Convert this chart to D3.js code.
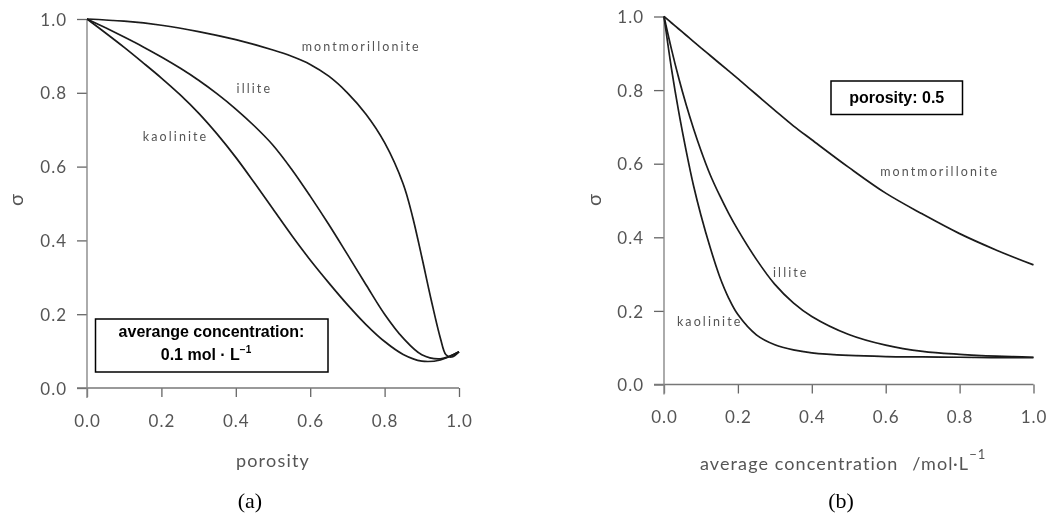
<!DOCTYPE html>
<html>
<head>
<meta charset="utf-8">
<script src="https://cdn.jsdelivr.net/npm/d3@7"></script>
<style>
  html, body { margin: 0; padding: 0; background: #fff; }
  svg { display: block; }
</style>
</head>
<body>
<svg id="chart" width="1053" height="514"></svg>
<script>
// ---- Data -------------------------------------------------------------
// (a) reflection coefficient sigma vs. porosity at 0.1 mol/L
const porosityGrid = [0, .05, .1, .15, .2, .25, .3, .35, .4, .45, .5, .55, .6, .65, .7, .75, .8, .85, .9, .95, 1.0];
const kaoliniteA   = [1.0, .962, .923, .882, .84, .795, .745, .688, .625, .556, .485, .414, .347, .285, .226, .172, .126, .091, .073, .076, .098];
const illiteA      = [1.0, .976, .951, .925, .897, .867, .834, .797, .756, .71, .658, .593, .52, .443, .362, .28, .2, .135, .09, .079, .098];
const montPorosity = [0, .1, .2, .3, .4, .5, .55, .6, .65, .7, .75, .8, .85, .875, .9, .925, .95, .965, .98, 1.0];
const montA        = [1.0, .994, .983, .966, .944, .916, .899, .877, .845, .80, .742, .665, .553, .465, .355, .24, .135, .09, .084, .098];

// (b) sigma vs. average concentration at porosity 0.5
const concGrid   = [0, .02, .04, .06, .08, .1, .125, .15, .175, .2, .25, .3, .35, .4, .5, .6, .7, .8, .9, 1.0];
const kaoliniteB = [1.0, .86, .74, .635, .54, .46, .372, .295, .235, .19, .135, .108, .094, .086, .079, .076, .075, .074, .073, .073];
const illiteB    = [1.0, .912, .832, .76, .695, .636, .57, .515, .465, .42, .34, .272, .222, .185, .136, .107, .09, .082, .077, .074];
const montB      = [1.0, .983, .966, .949, .932, .915, .894, .873, .852, .831, .788, .745, .703, .665, .59, .52, .463, .41, .365, .325];

const tickValues = [0, 0.2, 0.4, 0.6, 0.8, 1.0];

// ---- Drawing -----------------------------------------------------------
const svg = d3.select("#chart");
const tickFont = "Lato, 'Open Sans', sans-serif";
const grey = "#555";

const defs = svg.append("defs");
defs.append("filter").attr("id", "soft")
  .append("feGaussianBlur").attr("stdDeviation", 0.55);

function panel(cfg) {
  const x = d3.scaleLinear().domain([0, 1]).range(cfg.xRange);
  const y = d3.scaleLinear().domain([0, 1]).range(cfg.yRange);
  const g = svg.append("g").attr("filter", "url(#soft)");

  // axes
  const xAxis = d3.axisBottom(x).tickValues(tickValues).tickFormat(d3.format(".1f"))
    .tickSize(9).tickSizeOuter(0).tickPadding(cfg.xPad);
  const yAxis = d3.axisLeft(y).tickValues(tickValues).tickFormat(d3.format(".1f"))
    .tickSize(10).tickSizeOuter(0).tickPadding(10);

  const gx = g.append("g").attr("transform", `translate(0,${y(0)})`).call(xAxis);
  const gy = g.append("g").attr("transform", `translate(${x(0)},0)`).call(yAxis);
  [gx, gy].forEach(a => {
    a.select(".domain").remove();
    a.selectAll(".tick line").attr("stroke", "#666").attr("stroke-width", 1.3);
    a.selectAll(".tick text").attr("fill", grey).attr("font-family", tickFont)
      .attr("font-size", 17).attr("letter-spacing", "1px");
  });
  gy.selectAll(".tick text").attr("dy", "0.36em");

  // axis lines: x line reaches the y tick ends, y line drops below the x axis
  g.append("line").attr("x1", x(0) - 10).attr("x2", x(1))
    .attr("y1", y(0)).attr("y2", y(0)).attr("stroke", "#777").attr("stroke-width", 1.4);
  g.append("line").attr("x1", x(0)).attr("x2", x(0))
    .attr("y1", y(1)).attr("y2", y(0) + 10).attr("stroke", "#888").attr("stroke-width", 1.4);

  // curves
  const line = d3.line().x(d => x(d[0])).y(d => y(d[1])).curve(d3.curveCatmullRom.alpha(0.5));
  cfg.series.forEach(s => {
    g.append("path").datum(d3.zip(s.xs, s.ys))
      .attr("d", line).attr("fill", "none")
      .attr("stroke", "#1a1a1a").attr("stroke-width", 1.7);
    g.append("text").attr("x", x(s.lx)).attr("y", y(s.ly))
      .attr("font-family", tickFont).attr("font-size", 12.5)
      .attr("letter-spacing", "2.1px").attr("fill", "#555")
      .attr("dominant-baseline", "middle")
      .text(s.name);
  });

  // sigma axis label
  g.append("text")
    .attr("transform", `translate(${cfg.sigmaX},${cfg.sigmaY}) rotate(-90)`)
    .attr("text-anchor", "middle").attr("dominant-baseline", "middle")
    .attr("font-family", tickFont).attr("font-size", 20).attr("fill", grey)
    .text("σ");

  return { x, y, g };
}

// panel (a)
const pa = panel({
  xRange: [87, 459], yRange: [388, 19], sigmaX: 18, sigmaY: 200, xPad: 18,
  series: [
    { name: "montmorillonite", xs: montPorosity, ys: montA, lx: 0.577, ly: 0.921 },
    { name: "illite", xs: porosityGrid, ys: illiteA, lx: 0.402, ly: 0.808 },
    { name: "kaolinite", xs: porosityGrid, ys: kaoliniteA, lx: 0.15, ly: 0.678 }
  ]
});
pa.g.append("text").attr("x", 273).attr("y", 462)
  .attr("text-anchor", "middle").attr("dominant-baseline", "middle")
  .attr("font-family", tickFont).attr("font-size", 18).attr("letter-spacing", "1.2px")
  .attr("fill", grey).text("porosity");

// panel (b)
const pb = panel({
  xRange: [664, 1033.5], yRange: [384.5, 16.5], sigmaX: 596, sigmaY: 200, xPad: 17,
  series: [
    { name: "montmorillonite", xs: concGrid, ys: montB, lx: 0.585, ly: 0.574 },
    { name: "illite", xs: concGrid, ys: illiteB, lx: 0.295, ly: 0.3 },
    { name: "kaolinite", xs: concGrid, ys: kaoliniteB, lx: 0.035, ly: 0.168 }
  ]
});
const bt = pb.g.append("text").attr("x", 700).attr("y", 465)
  .attr("dominant-baseline", "middle")
  .attr("font-family", tickFont).attr("font-size", 18).attr("letter-spacing", "1.1px")
  .attr("fill", grey);
bt.append("tspan").text("average concentration");
bt.append("tspan").attr("dx", 14).text("/mol·L");
bt.append("tspan").attr("dy", -9).attr("font-size", 13).text("−1");

// annotation boxes
function box(x0, y0, w, h, lines) {
  svg.append("rect").attr("x", x0).attr("y", y0).attr("width", w).attr("height", h)
    .attr("fill", "#fff").attr("stroke", "#000").attr("stroke-width", 1.5);
  const t = svg.append("g").attr("font-family", "'Liberation Sans', Arial, sans-serif")
    .attr("font-weight", "bold").attr("fill", "#000").attr("text-anchor", "middle");
  lines.forEach(l => l(t));
}
box(95.5, 319, 232.5, 53, [
  t => t.append("text").attr("x", 211.5).attr("y", 337).attr("font-size", 16).text("averange concentration:"),
  t => {
    const tx = t.append("text").attr("x", 206).attr("y", 360).attr("font-size", 16);
    tx.append("tspan").text("0.1 mol · L");
    tx.append("tspan").attr("dy", -7).attr("font-size", 10).text("−1");
  }
]);
box(831, 81, 131.5, 33.5, [
  t => t.append("text").attr("x", 896.7).attr("y", 103).attr("font-size", 16).text("porosity: 0.5")
]);

// panel captions
svg.append("text").attr("x", 250).attr("y", 508).attr("text-anchor", "middle")
  .attr("font-family", "'Liberation Serif', 'Times New Roman', serif").attr("font-size", 22)
  .text("(a)");
svg.append("text").attr("x", 841).attr("y", 508).attr("text-anchor", "middle")
  .attr("font-family", "'Liberation Serif', 'Times New Roman', serif").attr("font-size", 22)
  .text("(b)");
</script>
</body>
</html>
